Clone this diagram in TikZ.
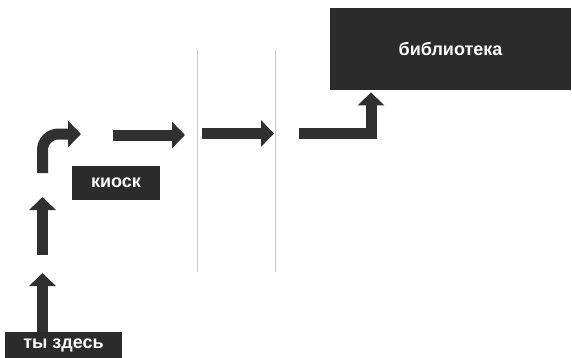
\documentclass[tikz,border=0pt]{standalone}
\usepackage{fontspec}
\setmainfont{Liberation Sans}
\usetikzlibrary{arrows.meta,positioning}
\definecolor{boxdark}{HTML}{2B2B2B}
\definecolor{arrowdark}{HTML}{303030}

\begin{document}
\begin{tikzpicture}[
		x=0.5pt,y=-0.5pt,
		box/.style={fill=boxdark,text=white,inner sep=0pt,font=\fontsize{9}{10}\selectfont\bfseries},
		arrow/.style={draw=arrowdark,line width=5.5pt,-{Triangle[length=6.5pt,width=13pt]}},
		divider/.style={draw=black!22,line width=0.5pt}
		]
		\useasboundingbox (0,0) rectangle (572,358);
		% manual positions
		\node[box,minimum width=58.5pt,minimum height=13pt] (here) at (63.5,345) {ты здесь};
		\node[box,minimum width=44pt,minimum height=17pt] (kiosk) at (116,183) {киоск};
		\node[box,minimum width=120.5pt,minimum height=41pt] (lib) at (450.5,49) {библиотека};
		
		% free ends of the arrows
		\coordinate (a1e) at (42.5,273);
		\coordinate (a2s) at (42.5,255);
		\coordinate (a2e) at (42.5,197);
		\coordinate (a3s) at (42.5,173);
		\coordinate (a3e) at (81,134);
		\coordinate (a4s) at (113,135);
		\coordinate (a4e) at (185,135);
		\coordinate (a5s) at (202,133.5);
		\coordinate (a5e) at (274,133.5);
		\coordinate (a6s) at (299,133);
		\coordinate (a6c) at (371,133);
		
		% dividers
		\coordinate (d1t) at (197,50);
		\coordinate (d1b) at (197,272);
		\coordinate (d2t) at (275,50);
		\coordinate (d2b) at (275,272);
		\draw[divider] (d1t) -- (d1b);
		\draw[divider] (d2t) -- (d2b);
		
		% arrows
		\draw[arrow] (here.north -| a1e) -- (a1e);
		\draw[arrow] (a2s) -- (a2e);
		\draw[arrow,rounded corners=8pt] (a3s) -- (a3s |- a3e) -- (a3e);
		\draw[arrow] (a4s) -- (a4e);
		\draw[arrow] (a5s) -- (a5e);
		\draw[arrow,line join=miter,shorten >=1pt] (a6s) -- (a6c) -- (lib.south -| a6c);
	\end{tikzpicture}
\end{document}
